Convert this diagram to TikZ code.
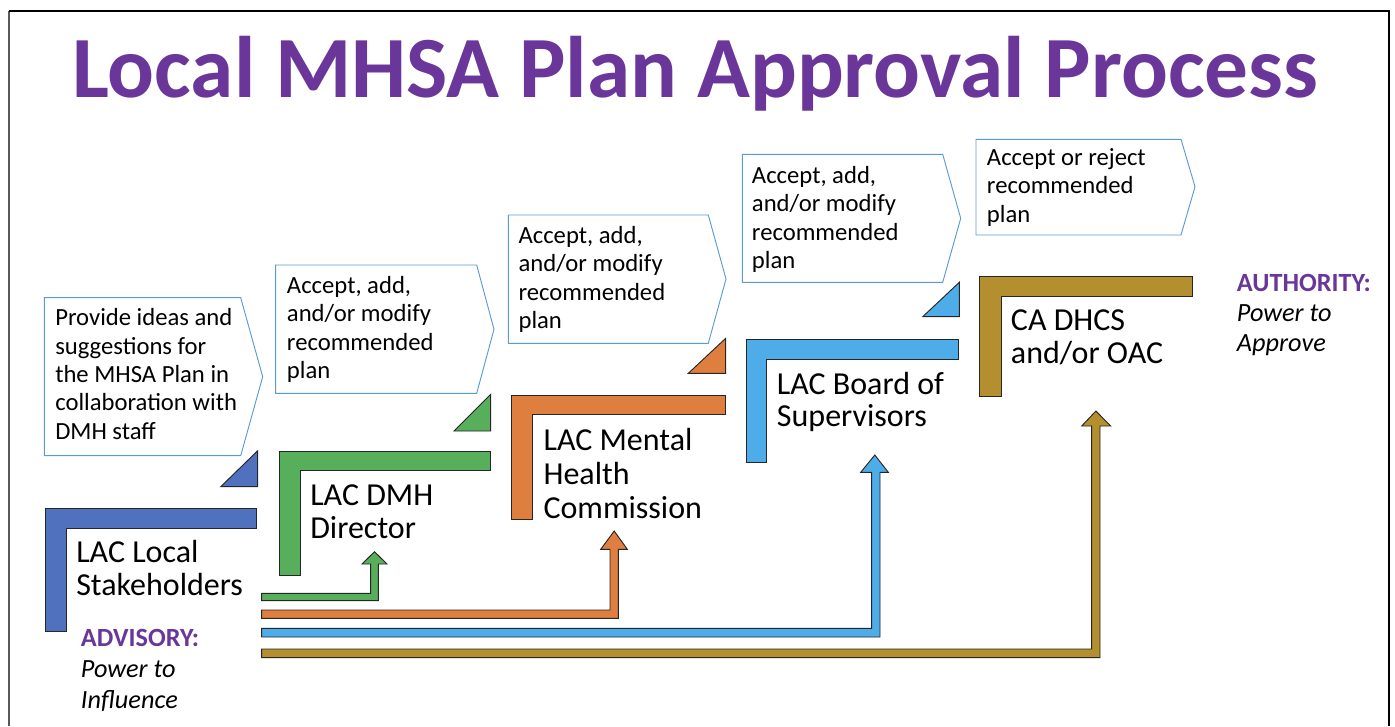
\documentclass[tikz,border=0pt]{standalone}
\usepackage{fontspec}
\setmainfont{Carlito}
\definecolor{ttlpurple}{HTML}{6A3699}
\definecolor{cblue}{HTML}{4F71BE}
\definecolor{cgreen}{HTML}{57AE5B}
\definecolor{corange}{HTML}{DE7F40}
\definecolor{clblue}{HTML}{4EADE8}
\definecolor{cgold}{HTML}{B38F2F}
\definecolor{calloutline}{HTML}{5B9BD5}
\begin{document}
\begin{tikzpicture}[x=0.75pt,y=-0.75pt]
\tikzset{
  bracket/.style={draw=black!85, line width=0.7pt, line join=miter},
  flowarrow/.style={draw=black!85, line width=0.7pt, line join=miter},
  callout/.style={draw=calloutline, line width=0.7pt, fill=white},
  lbl/.style={anchor=base west, inner sep=0pt, align=left, font=\fontsize{24}{24.5}\selectfont},
  ctext/.style={anchor=base west, inner sep=0pt, align=left, font=\fontsize{18.5}{21.2}\selectfont},
  side/.style={anchor=base west, inner sep=0pt, align=left, font=\fontsize{19.7}{23.2}\selectfont},
}
\useasboundingbox (0,0) rectangle (1395,726);
% frame
\draw[black!65, line width=1.8pt] (9,11) -- (9,726);
\draw[black, line width=1.2pt] (9,11) -- (1389,11) -- (1389,726);
% title
\node[anchor=base west, inner sep=0pt, text=ttlpurple, font=\fontsize{65.5}{70}\selectfont\bfseries] (title) at (72,97) {Local MHSA Plan Approval Process};

% callouts
\draw[callout] (44.3,297.7) -- (240.7,297.7) -- (262.7,376.7) -- (240.7,455.7) -- (44.3,455.7) -- cycle;
\draw[callout] (275.7,265) -- (476.7,265) -- (494,329.3) -- (476.7,393.3) -- (275.7,393.3) -- cycle;
\draw[callout] (508.3,215) -- (708.3,215) -- (726,279) -- (708.3,343.3) -- (508.3,343.3) -- cycle;
\draw[callout] (742.3,154.3) -- (942.7,154.3) -- (960.7,218.3) -- (942.7,282.3) -- (742.3,282.3) -- cycle;
\draw[callout] (976,139.3) -- (1181,139.3) -- (1195,186.7) -- (1181,235) -- (976,235) -- cycle;

% (anchor = baseline of last line)
\node[ctext] (c1) at (55,439) {Provide ideas and\\suggestions for\\the MHSA Plan in\\collaboration with\\DMH staff};
\node[ctext] (c2) at (286.7,378.5) {Accept, add,\\and/or modify\\recommended\\plan};
\node[ctext] (c3) at (518.3,328.5) {Accept, add,\\and/or modify\\recommended\\plan};
\node[ctext] (c4) at (751.7,268.3) {Accept, add,\\and/or modify\\recommended\\plan};
\node[ctext] (c5) at (986.7,222) {Accept or reject\\recommended\\plan};

% triangles
\fill[cblue, draw=black!85, line width=0.7pt] (257.7,450.7) -- (257.7,486.7) -- (220.7,486.7) -- cycle;
\fill[cgreen, draw=black!85, line width=0.7pt] (490.7,394.3) -- (490.7,431) -- (454,431) -- cycle;
\fill[corange, draw=black!85, line width=0.7pt] (725.7,338.3) -- (725.7,373.3) -- (688.3,373.3) -- cycle;
\fill[clblue, draw=black!85, line width=0.7pt] (959.3,282.3) -- (959.3,316.7) -- (922.7,316.7) -- cycle;

% brackets
\filldraw[bracket, fill=cblue] (45,508.3) -- (256.7,508.3) -- (256.7,528.3) -- (66.7,528.3) -- (66.7,631) -- (45,631) -- cycle;
\filldraw[bracket, fill=cgreen] (279.3,451) -- (490.7,451) -- (490.7,470.7) -- (300,470.7) -- (300,575) -- (279.3,575) -- cycle;
\filldraw[bracket, fill=corange] (511.7,395) -- (725,395) -- (725,414.3) -- (532.7,414.3) -- (532.7,519) -- (511.7,519) -- cycle;
\filldraw[bracket, fill=clblue] (746,339) -- (958.3,339) -- (958.3,359) -- (766.7,359) -- (766.7,462.7) -- (746,462.7) -- cycle;
\filldraw[bracket, fill=cgold] (979.3,276.7) -- (1192.3,276.7) -- (1192.3,296.7) -- (1001,296.7) -- (1001,396.7) -- (979.3,396.7) -- cycle;

% labels (anchor = baseline of last line)
\node[lbl] (stake) at (76,595) {LAC Local\\Stakeholders};
\node[lbl] (dmh) at (310,538.3) {LAC DMH\\Director};
\node[lbl, font=\fontsize{24}{25.5}\selectfont] (mhc) at (543.3,518.3) {LAC Mental\\Health\\Commission};
\node[lbl] (bos) at (776.7,426.7) {LAC Board of\\Supervisors};
\node[lbl] (dhcs) at (1010.7,363.3) {CA DHCS\\and/or OAC};

\node[side] (adv) at (80.7,708.3) {{\color{ttlpurple}\bfseries ADVISORY:}\\\itshape Power to\\\itshape Influence};
\node[side, font=\fontsize{19.7}{22.5}\selectfont] (auth) at (1236.7,351.7) {{\color{ttlpurple}\bfseries AUTHORITY:}\\\itshape Power to\\\itshape Approve};

% flow arrows
\filldraw[flowarrow, fill=cgreen] (261.7,593.3) -- (370.7,593.3) -- (370.7,564) -- (362,564) -- (374.5,551.7) -- (387,564) -- (378.3,564) -- (378.3,600.7) -- (261.7,600.7) -- cycle;
\filldraw[flowarrow, fill=corange] (261.7,610) -- (610,610) -- (610,549.3) -- (600.7,549.3) -- (614.2,531) -- (627.3,549.3) -- (618.3,549.3) -- (618.3,618.3) -- (261.7,618.3) -- cycle;
\filldraw[flowarrow, fill=clblue] (261.7,628.3) -- (871.7,628.3) -- (871.7,472.3) -- (860.7,472.3) -- (874.8,455) -- (888.3,472.3) -- (880,472.3) -- (880,637) -- (261.7,637) -- cycle;
\filldraw[flowarrow, fill=cgold] (261.7,649) -- (1091.7,649) -- (1091.7,426) -- (1081.7,426) -- (1095.9,411) -- (1110.7,426) -- (1100,426) -- (1100,657.7) -- (261.7,657.7) -- cycle;
\end{tikzpicture}
\end{document}
